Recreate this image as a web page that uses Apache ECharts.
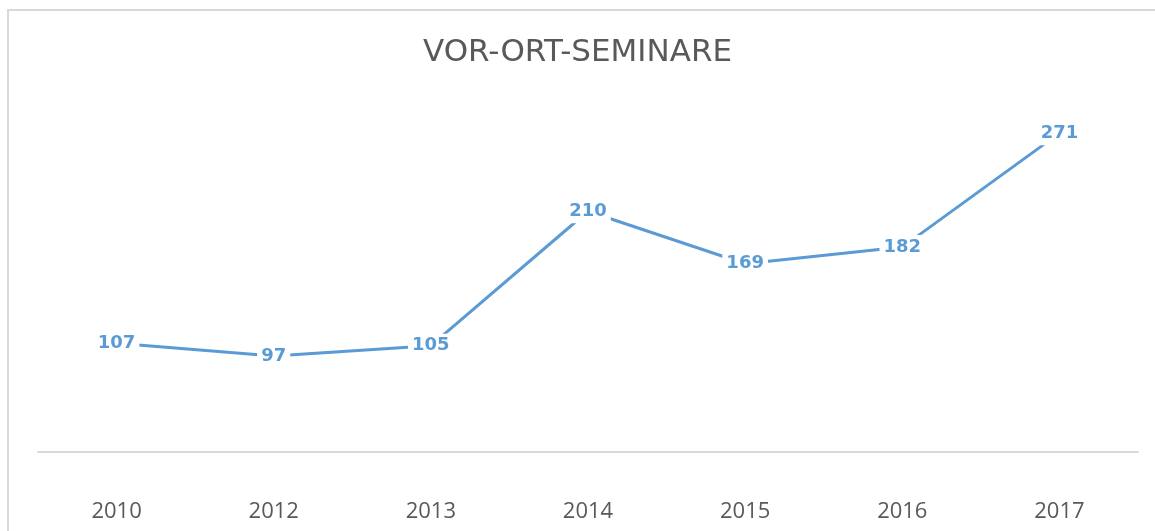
<!DOCTYPE html>
<html>
<head>
<meta charset="utf-8">
<script src="https://cdn.jsdelivr.net/npm/echarts@6/dist/echarts.min.js"></script>
<style>
  html, body { margin: 0; padding: 0; background: #fff; overflow: hidden; }
  #wrap { position: relative; width: 1155px; height: 531px; }
  #frame {
    position: absolute; left: 7px; top: 9px; width: 1300px; height: 700px;
    border-left: 2px solid #d9d9d9; border-top: 2px solid #d9d9d9;
    pointer-events: none; z-index: 2;
  }
  #chart { position: absolute; left: 0; top: 0; width: 1155px; height: 531px; }
</style>
</head>
<body>
<div id="wrap">
  <div id="chart"></div>
  <div id="frame"></div>
</div>
<script>
const years = ['2010', '2012', '2013', '2014', '2015', '2016', '2017']
const seminars = [107, 97, 105, 210, 169, 182, 271]

const chart = echarts.init(document.getElementById('chart'))

const option = {
  backgroundColor: 'transparent',
  animation: false,
  title: {
    text: 'VOR-ORT-SEMINARE',
    left: 'center',
    top: 32,
    textStyle: {
      color: '#595959',
      fontFamily: 'DejaVu Sans',
      fontWeight: 'normal',
      fontSize: 31
    }
  },
  grid: {
    left: 38,
    right: 17,
    top: 96,
    bottom: 79
  },
  xAxis: {
    type: 'category',
    data: years,
    boundaryGap: true,
    axisLine: { lineStyle: { color: '#d9d9d9', width: 2 } },
    axisTick: { show: false },
    axisLabel: {
      color: '#595959',
      fontFamily: 'Open Sans',
      fontSize: 22,
      margin: 49
    }
  },
  yAxis: {
    type: 'value',
    min: 22,
    max: 300,
    show: false,
    splitLine: { show: false }
  },
  series: [
    {
      name: 'Vor-Ort-Seminare',
      type: 'line',
      data: seminars,
      symbol: 'circle',
      symbolSize: 0,
      showSymbol: true,
      lineStyle: { color: '#5b9bd5', width: 3 },
      itemStyle: { color: '#5b9bd5' },
      label: {
        show: true,
        position: 'inside',
        color: '#5b9bd5',
        fontFamily: 'DejaVu Sans',
        fontWeight: 'bold',
        fontSize: 18,
        backgroundColor: '#ffffff',
        padding: [3, 4, 3, 4]
      }
    }
  ]
}

chart.setOption(option)
</script>
</body>
</html>
